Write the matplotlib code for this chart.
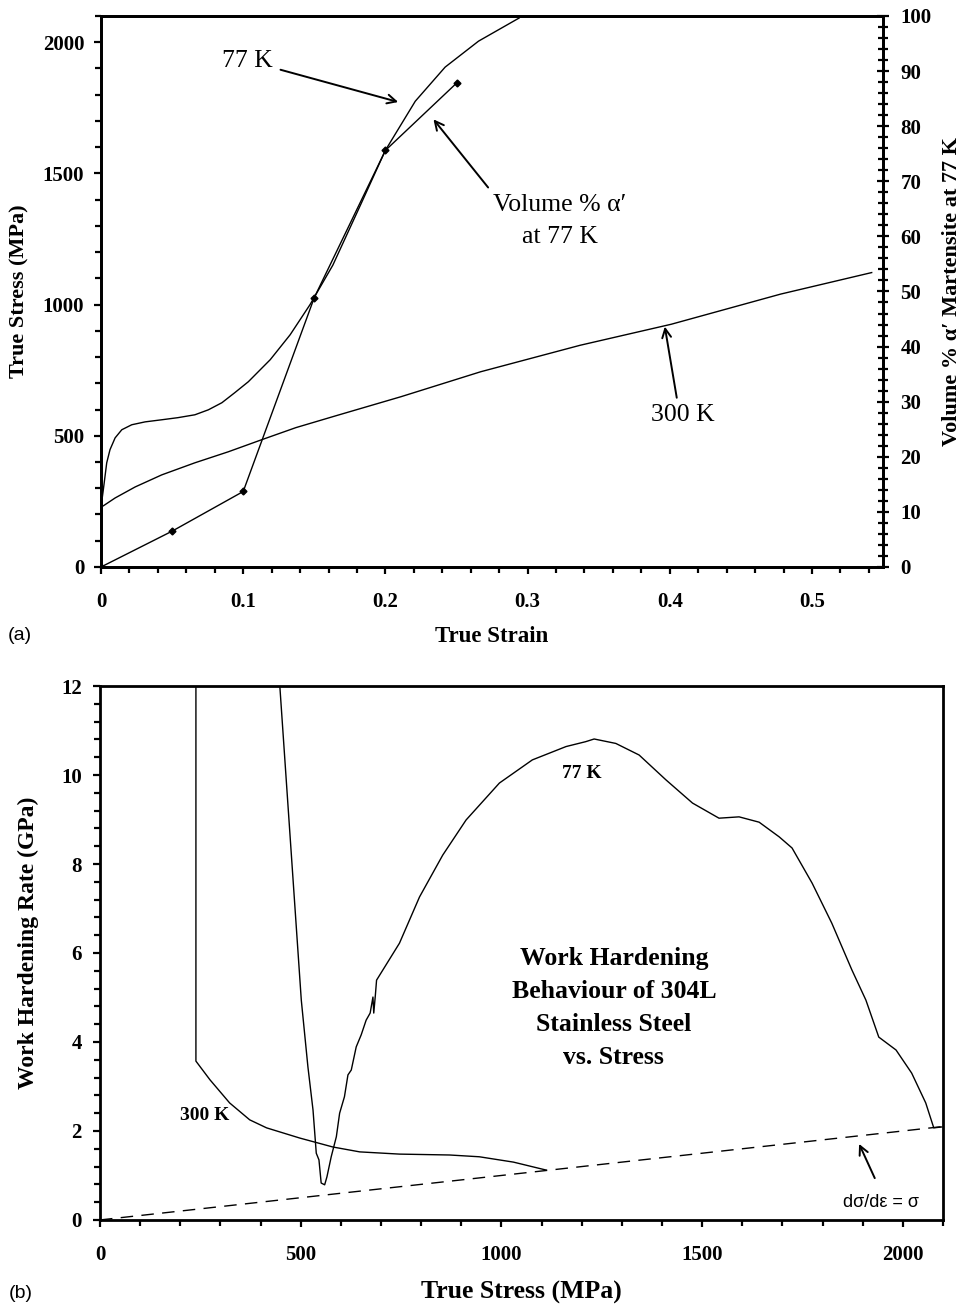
import numpy as np
import matplotlib as mpl
mpl.use("Agg")
import matplotlib.pyplot as plt
from matplotlib.ticker import MultipleLocator

serif = ['Liberation Serif', 'DejaVu Serif']
sans = ['Liberation Sans', 'DejaVu Sans']
mpl.rcParams['font.family'] = serif

# ---- (a) true stress / true strain ----
strain_77 = [0, 0.0016, 0.004, 0.0063, 0.0099, 0.0146, 0.0216, 0.031, 0.0427, 0.054, 0.066,
             0.0755, 0.085, 0.094, 0.1036, 0.119, 0.133, 0.147, 0.163, 0.182, 0.200,
             0.221, 0.242, 0.2655, 0.294]
stress_77 = [229, 294, 397, 447, 492, 523, 542, 553, 561, 569, 580,
             599, 626, 664, 706, 790, 885, 1000, 1150, 1374, 1588,
             1775, 1905, 2004, 2092]

strain_300 = [0, 0.0016, 0.0099, 0.024, 0.0427, 0.066, 0.0895, 0.113, 0.137, 0.165,
              0.211, 0.267, 0.337, 0.401, 0.478, 0.542]
stress_300 = [229, 233, 263, 305, 351, 397, 439, 485, 531, 576,
              649, 744, 845, 925, 1040, 1122]

strain_mart = [0, 0.05, 0.10, 0.15, 0.20, 0.25]
vol_mart = [0, 6.5, 13.7, 48.9, 75.6, 87.8]

# ---- (b) work hardening rate vs. true stress ----
sig_300 = [239, 239, 274, 323, 373, 415, 498, 580, 647, 746, 871, 945, 1030, 1112]
whr_300 = [12.0, 3.57, 3.15, 2.63, 2.25, 2.07, 1.84, 1.64, 1.53, 1.48, 1.46, 1.42, 1.30, 1.12]

sig_77 = [448, 501.5, 518, 530.7, 538.8, 545.5, 551, 559.7, 565.4, 576, 588.8, 597, 609,
          617.7, 626, 638.3, 650.7, 663, 673, 680, 682, 686, 689,
          746, 796, 853.8, 912, 995, 1077, 1161, 1210, 1231, 1285, 1343, 1410, 1476,
          1542, 1592, 1642, 1692, 1724, 1774, 1823, 1873, 1908, 1940, 1983, 2022,
          2057, 2077, 2097]
whr_77 = [12.0, 4.94, 3.44, 2.47, 1.50, 1.35, 0.83, 0.79, 0.97, 1.42, 1.87, 2.40, 2.77,
          3.26, 3.37, 3.89, 4.16, 4.49, 4.65, 5.01, 4.65, 5.05, 5.39,
          6.22, 7.26, 8.2, 8.99, 9.82, 10.34, 10.64, 10.75, 10.81, 10.71, 10.45, 9.89, 9.37,
          9.03, 9.06, 8.94, 8.61, 8.36, 7.57, 6.67, 5.62, 4.94, 4.11, 3.82, 3.30,
          2.63, 2.07, 2.09]

sig_cons = [0, 2100]
whr_cons = [0, 2.1]

fig = plt.figure(figsize=(9.65, 13.07), dpi=100)

# ------------------ panel (a) ------------------
ax = fig.add_axes([0.1047, 0.5662, 0.8104, 0.4216])
ax.plot(strain_77, stress_77, color='k', lw=1)
ax.plot(strain_300, stress_300, color='k', lw=1)
ax.set_xlim(0, 0.55)
ax.set_ylim(0, 2100)
ax.xaxis.set_minor_locator(MultipleLocator(0.02))
ax.yaxis.set_major_locator(MultipleLocator(500))
ax.yaxis.set_minor_locator(MultipleLocator(100))
ax.set_xticks([0, 0.1, 0.2, 0.3, 0.4, 0.5], ['0', '0.1', '0.2', '0.3', '0.4', '0.5'])

ax2 = ax.twinx()
ax2.plot(strain_mart, vol_mart, color='k', lw=1, marker='D', ms=3.5)
ax2.set_ylim(0, 100)
ax2.yaxis.set_major_locator(MultipleLocator(10))
ax2.yaxis.set_minor_locator(MultipleLocator(2))

for a in (ax, ax2):
    for s in a.spines.values():
        s.set_linewidth(2)
ax.tick_params(which='both', direction='out', width=1.6, labelsize=15, top=False, right=False)
ax.tick_params(which='major', length=5)
ax.tick_params(which='minor', length=4)
ax.tick_params(axis='x', pad=13)
ax.tick_params(axis='y', pad=7)
ax2.tick_params(which='both', direction='inout', width=1.6, labelsize=15, pad=8)
ax2.tick_params(which='major', length=9)
ax2.tick_params(which='minor', length=7)
for lab in ax.get_xticklabels() + ax.get_yticklabels() + ax2.get_yticklabels():
    lab.set_fontweight('bold')

ax.set_xlabel('True Strain', fontsize=16.5, fontweight='bold', va='center')
ax.xaxis.set_label_coords(0.5, -0.127)
ax.set_ylabel('True Stress (MPa)', fontsize=16, fontweight='bold', va='center')
ax.yaxis.set_label_coords(-0.104, 0.5)
ax2.set_ylabel('Volume % α′ Martensite at 77 K', fontsize=16, fontweight='bold',
               va='center', rotation=90)
ax2.yaxis.set_label_coords(1.088, 0.5)

arrow = dict(arrowstyle='->', color='k', lw=1.4, mutation_scale=16, shrinkA=0, shrinkB=0)
ax.annotate('77 K', xy=(0.209, 1772), xytext=(0.1205, 1930), fontsize=18.5,
            ha='right', va='center', arrowprops=dict(arrow, shrinkA=4))
ax.annotate('Volume % α′\nat 77 K', xy=(0.2338, 1706), xytext=(0.3225, 1320),
            fontsize=18.5, ha='center', va='center', linespacing=1.6,
            arrowprops=dict(arrow, relpos=(0.0, 1.0), shrinkA=3))
ax.annotate('', xy=(0.3965, 916), xytext=(0.4049, 645), arrowprops=arrow)
ax.text(0.409, 578, '300 K', fontsize=18.5, ha='center', va='center')

fig.text(0.021, 1 - 635 / 1307, '(a)', fontsize=14, family=sans, ha='center', va='center')

# ------------------ panel (b) ------------------
bx = fig.add_axes([0.1036, 0.0666, 0.8736, 0.4085])
bx.plot(sig_300, whr_300, color='k', lw=1)
bx.plot(sig_77, whr_77, color='k', lw=1)
bx.plot(sig_cons, whr_cons, color='k', lw=1, dashes=(9, 6))
bx.set_xlim(0, 2100)
bx.set_ylim(0, 12)
bx.xaxis.set_major_locator(MultipleLocator(500))
bx.xaxis.set_minor_locator(MultipleLocator(100))
bx.yaxis.set_major_locator(MultipleLocator(2))
bx.yaxis.set_minor_locator(MultipleLocator(0.4))
for s in bx.spines.values():
    s.set_linewidth(2)
bx.tick_params(which='both', direction='out', width=1.6, labelsize=15, top=False, right=False)
bx.tick_params(which='major', length=5)
bx.tick_params(which='minor', length=4)
bx.tick_params(axis='x', pad=13)
bx.tick_params(axis='y', pad=8)
for lab in bx.get_xticklabels() + bx.get_yticklabels():
    lab.set_fontweight('bold')

bx.set_xlabel('True Stress (MPa)', fontsize=18.5, fontweight='bold', va='center')
bx.xaxis.set_label_coords(0.5, -0.135)
bx.set_ylabel('Work Hardening Rate (GPa)', fontsize=17, fontweight='bold', va='center')
bx.yaxis.set_label_coords(-0.0854, 0.52)

bx.text(1201, 10.03, '77 K', fontsize=14, fontweight='bold', ha='center', va='center')
bx.text(262, 2.34, '300 K', fontsize=14, fontweight='bold', ha='center', va='center')
bx.text(1280, 4.76, 'Work Hardening\nBehaviour of 304L\nStainless Steel\nvs. Stress',
        fontsize=18.5, fontweight='bold', ha='center', va='center', linespacing=1.55)
bx.annotate('', xy=(1891, 1.71), xytext=(1930, 0.94), arrowprops=arrow)
bx.text(1945, 0.40, 'dσ/dε = σ', fontsize=13, family=sans, ha='center', va='center')

fig.text(0.021, 1 - 1293 / 1307, '(b)', fontsize=14, family=sans, ha='center', va='center')

fig.savefig('out.png', dpi=100)
